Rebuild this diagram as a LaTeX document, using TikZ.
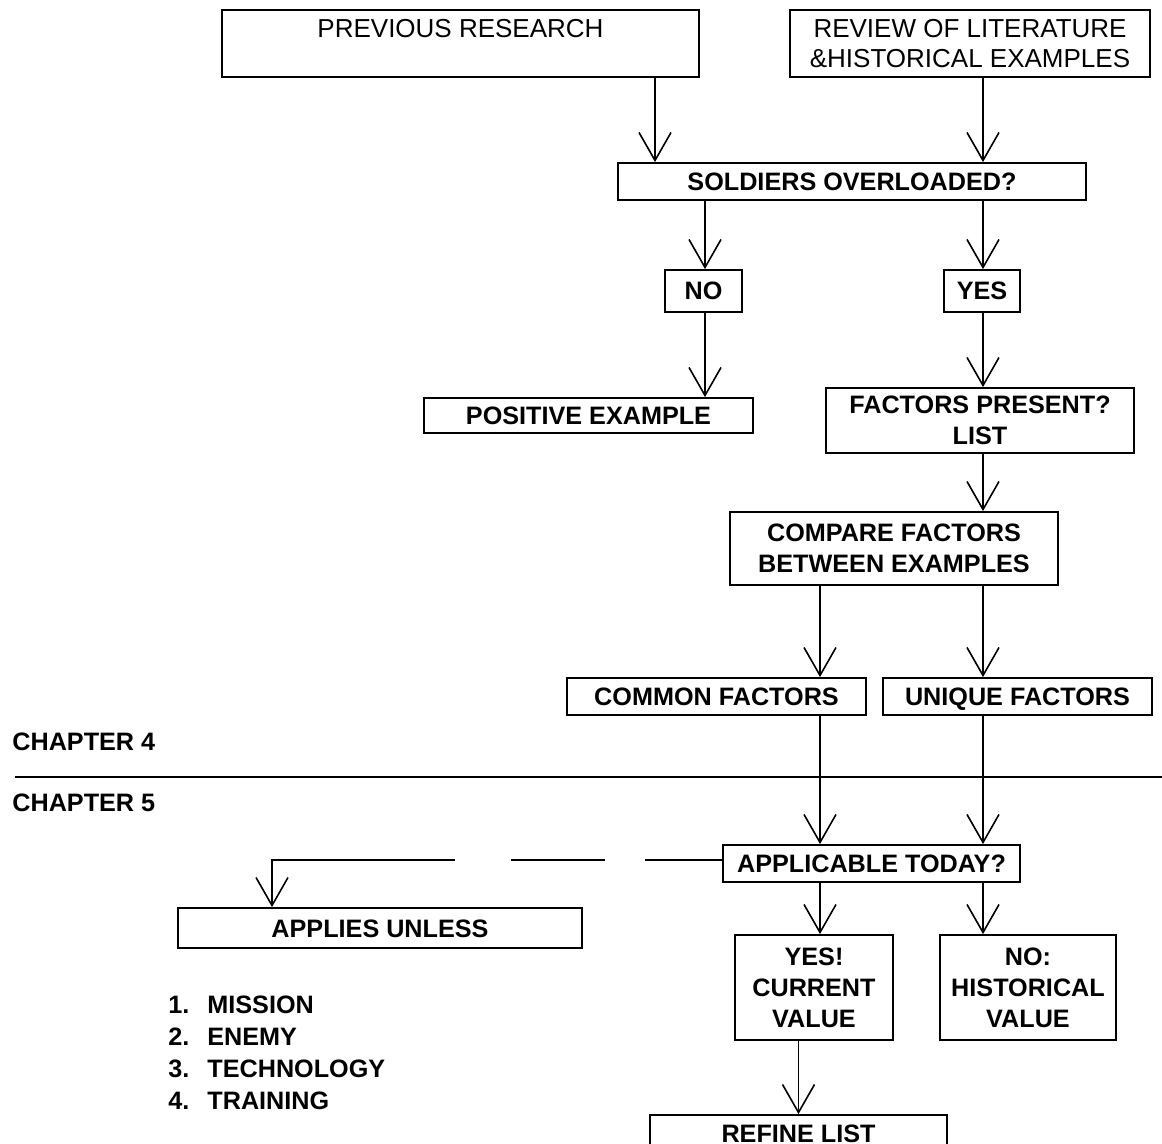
\documentclass[tikz,border=0pt]{standalone}
\usepackage{fontspec}
\setmainfont{Liberation Sans}
\usetikzlibrary{arrows.meta}

\tikzset{
  box/.style={draw, line width=0.9pt, align=center, inner sep=0pt, font=\fontsize{12.6}{15.5}\selectfont\bfseries},
  oneline/.style={box, text height=9pt, text depth=0pt},
  plainbox/.style={box, font=\fontsize{13}{15}\selectfont},
  arr/.style={line width=0.8pt, -{Straight Barb[length=14pt,width=16pt,line width=0.8pt]}},
  lbl/.style={anchor=base west, inner sep=0pt, font=\fontsize{12.6}{16}\selectfont\bfseries},
}

\begin{document}
\begin{tikzpicture}[x=0.5pt,y=-0.5pt]
\useasboundingbox (0,0) rectangle (1162,1144);
\clip (0,0) rectangle (1162,1144);

% sources
\node[plainbox, minimum width=238.5pt, minimum height=33.5pt] (prev) at (460.5,43.5) {PREVIOUS RESEARCH\\ \mbox{}};
\node[plainbox, minimum width=180pt, minimum height=33.5pt] (review) at (970,43.5) {REVIEW OF LITERATURE\\\&HISTORICAL EXAMPLES};

% chapter 4 part
\node[oneline, minimum width=234pt, minimum height=18.5pt] (soldiers) at (852,181.5) {SOLDIERS OVERLOADED?};
\node[oneline, minimum width=38.5pt, minimum height=21pt] (no) at (703.5,291) {NO};
\node[oneline, minimum width=38pt, minimum height=21pt] (yes) at (982,291) {YES};
\node[oneline, minimum width=164.5pt, minimum height=17.5pt] (positive) at (588.5,415.5) {POSITIVE EXAMPLE};
\node[box, minimum width=154pt, minimum height=32.5pt] (factors) at (980,420.5) {FACTORS PRESENT?\\LIST};
\node[box, minimum width=164pt, minimum height=36.5pt] (compare) at (894,548.5) {COMPARE FACTORS\\BETWEEN EXAMPLES};
\node[oneline, minimum width=149.5pt, minimum height=18.5pt] (common) at (716.5,696.5) {COMMON FACTORS};
\node[oneline, minimum width=134.5pt, minimum height=18.5pt] (unique) at (1017.5,696.5) {UNIQUE FACTORS};

% chapter split
\node[lbl] (ch4) at (12,750) {CHAPTER 4};
\node[lbl] (ch5) at (12,811) {CHAPTER 5};
\draw[line width=1pt] (15,777) -- (1162,777);

% chapter 5 part
\node[oneline, minimum width=148.5pt, minimum height=18.5pt] (applicable) at (871.5,863.5) {APPLICABLE TODAY?};
\node[oneline, minimum width=202pt, minimum height=20pt] (applies) at (380,928) {APPLIES UNLESS};
\node[box, minimum width=79pt, minimum height=52.5pt] (current) at (814,987.5) {YES!\\CURRENT\\VALUE};
\node[box, minimum width=88pt, minimum height=52.5pt] (historical) at (1028,987.5) {NO:\\HISTORICAL\\VALUE};
\node[oneline, minimum width=148.5pt, minimum height=18.5pt] (refine) at (798.5,1133.5) {REFINE LIST};
\node[lbl, align=left] (causes) at (168,1109) {1.\hspace{9pt}MISSION\\2.\hspace{9pt}ENEMY\\3.\hspace{9pt}TECHNOLOGY\\4.\hspace{9pt}TRAINING};

% columns for the arrows
\coordinate (colA) at (655,0);
\coordinate (colB) at (983,0);
\coordinate (colC) at (705,0);
\coordinate (colD) at (820,0);
\coordinate (bend) at (272,860);

\draw[arr] (colA |- prev.south) -- (colA |- soldiers.north);
\draw[arr] (colB |- review.south) -- (colB |- soldiers.north);
\draw[arr] (colC |- soldiers.south) -- (colC |- no.north);
\draw[arr] (colB |- soldiers.south) -- (colB |- yes.north);
\draw[arr] (colC |- no.south) -- (colC |- positive.north);
\draw[arr] (colB |- yes.south) -- (colB |- factors.north);
\draw[arr] (colB |- factors.south) -- (colB |- compare.north);
\draw[arr] (colD |- compare.south) -- (colD |- common.north);
\draw[arr] (colB |- compare.south) -- (colB |- unique.north);
\draw[arr] (colD |- common.south) -- (colD |- applicable.north);
\draw[arr] (colB |- unique.south) -- (colB |- applicable.north);
\draw[arr] (colD |- applicable.south) -- (colD |- current.north);
\draw[arr] (colB |- applicable.south) -- (colB |- historical.north);
\draw[arr] (refine.north |- current.south) -- (refine.north);
\draw[arr, dash pattern=on 38.5pt off 20pt on 47pt off 28pt on 300pt] (applicable.west |- bend) -- (bend) -- (bend |- applies.north);
\end{tikzpicture}
\end{document}
